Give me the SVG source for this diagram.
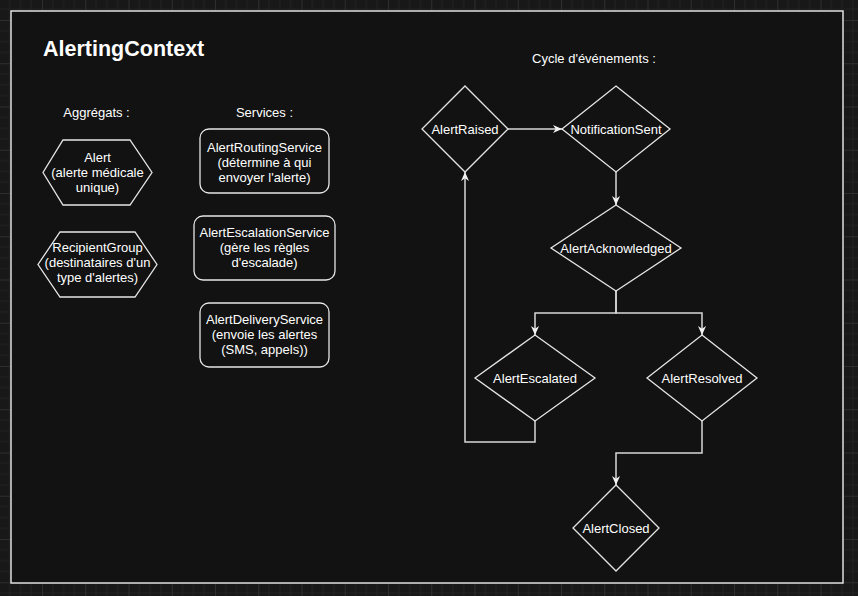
<svg xmlns="http://www.w3.org/2000/svg" width="858" height="596" viewBox="0 0 858 596">
  <defs>
    <pattern id="grid" x="42" y="20" width="43.25" height="43.25" patternUnits="userSpaceOnUse">
      <path d="M10.81,0V43.25M21.62,0V43.25M32.44,0V43.25M0,10.81H43.25M0,21.62H43.25M0,32.44H43.25" stroke="#222222" stroke-width="1" fill="none"/>
      <path d="M0.5,0V43.25M0,0.5H43.25" stroke="#2e2e2e" stroke-width="1" fill="none"/>
    </pattern>
    <marker id="arr" viewBox="0 0 10 10" refX="10" refY="5" markerWidth="9" markerHeight="9" markerUnits="userSpaceOnUse" orient="auto">
      <path d="M0,0.5 L10,5 L0,9.5 L3,5 Z" fill="#f2f2f2"/>
    </marker>
    <style>
      .t{font-family:"Liberation Sans",Arial,sans-serif;font-size:13px;fill:#ffffff;text-anchor:middle}
      .shape{fill:#121212;stroke:#e6e6e6;stroke-width:1.3}
      .conn{fill:none;stroke:#d8d8d8;stroke-width:1.5}
    </style>
  </defs>
  <rect x="0" y="0" width="858" height="596" fill="#181818"/>
  <rect x="0" y="0" width="858" height="596" fill="url(#grid)"/>
  <g id="container">
    <rect x="11" y="11" width="832" height="572" fill="#121212" stroke="#e0e0e0" stroke-width="1.5"/>
    <text x="43" y="55.5" font-family="Liberation Sans,Arial,sans-serif" font-size="21.5" font-weight="bold" fill="#ffffff">AlertingContext</text>
    <text class="t" x="96.5" y="116.5">Aggrégats :</text>
    <text class="t" x="264.5" y="116.5">Services :</text>
    <text class="t" x="594" y="63">Cycle d'événements :</text>
  </g>
  <g id="alert">
    <polygon class="shape" points="63,140 130,140 152,172.5 130,205 63,205 43,172.5"/>
    <text class="t" x="97.5" y="162">Alert</text>
    <text class="t" x="97.5" y="177">(alerte médicale</text>
    <text class="t" x="97.5" y="192">unique)</text>
  </g>
  <g id="recipientgroup">
    <polygon class="shape" points="60,232 135,232 157,264.5 135,297 60,297 38,264.5"/>
    <text class="t" x="97.5" y="252">RecipientGroup</text>
    <text class="t" x="97.5" y="267">(destinataires d'un</text>
    <text class="t" x="97.5" y="282">type d'alertes)</text>
  </g>
  <g id="routing">
    <rect class="shape" x="200" y="129" width="129" height="64" rx="9"/>
    <text class="t" x="264.5" y="152">AlertRoutingService</text>
    <text class="t" x="264.5" y="167">(détermine à qui</text>
    <text class="t" x="264.5" y="182">envoyer l'alerte)</text>
  </g>
  <g id="escalation">
    <rect class="shape" x="194" y="216" width="141" height="64" rx="9"/>
    <text class="t" x="264.5" y="237">AlertEscalationService</text>
    <text class="t" x="264.5" y="252">(gère les règles</text>
    <text class="t" x="264.5" y="267">d'escalade)</text>
  </g>
  <g id="delivery">
    <rect class="shape" x="200" y="303" width="129" height="64" rx="9"/>
    <text class="t" x="264.5" y="324">AlertDeliveryService</text>
    <text class="t" x="264.5" y="339">(envoie les alertes</text>
    <text class="t" x="264.5" y="354">(SMS, appels))</text>
  </g>
  <g id="connectors">
    <path class="conn" d="M508,129 H562" marker-end="url(#arr)"/>
    <path class="conn" d="M616,172 V205" marker-end="url(#arr)"/>
    <path class="conn" d="M616,291 V313 H535 V335" marker-end="url(#arr)"/>
    <path class="conn" d="M616,291 V313 H702 V335" marker-end="url(#arr)"/>
    <path class="conn" d="M535,421 V442 H465 V172" marker-end="url(#arr)"/>
    <path class="conn" d="M702,421 V453 H616 V485" marker-end="url(#arr)"/>
  </g>
  <g id="alertraised">
    <polygon class="shape" points="465,86 508,129 465,172 422,129"/>
    <text class="t" x="465" y="133.5">AlertRaised</text>
  </g>
  <g id="notificationsent">
    <polygon class="shape" points="616,86 670,129 616,172 562,129"/>
    <text class="t" x="616" y="133.5">NotificationSent</text>
  </g>
  <g id="alertacknowledged">
    <polygon class="shape" points="616,205 681,248 616,291 551,248"/>
    <text class="t" x="616" y="252.5">AlertAcknowledged</text>
  </g>
  <g id="alertescalated">
    <polygon class="shape" points="535,335 595,378 535,421 475,378"/>
    <text class="t" x="535" y="382.5">AlertEscalated</text>
  </g>
  <g id="alertresolved">
    <polygon class="shape" points="702,335 757,378 702,421 647,378"/>
    <text class="t" x="702" y="382.5">AlertResolved</text>
  </g>
  <g id="alertclosed">
    <polygon class="shape" points="616,485 659,528 616,571 573,528"/>
    <text class="t" x="616" y="532.5">AlertClosed</text>
  </g>
</svg>
